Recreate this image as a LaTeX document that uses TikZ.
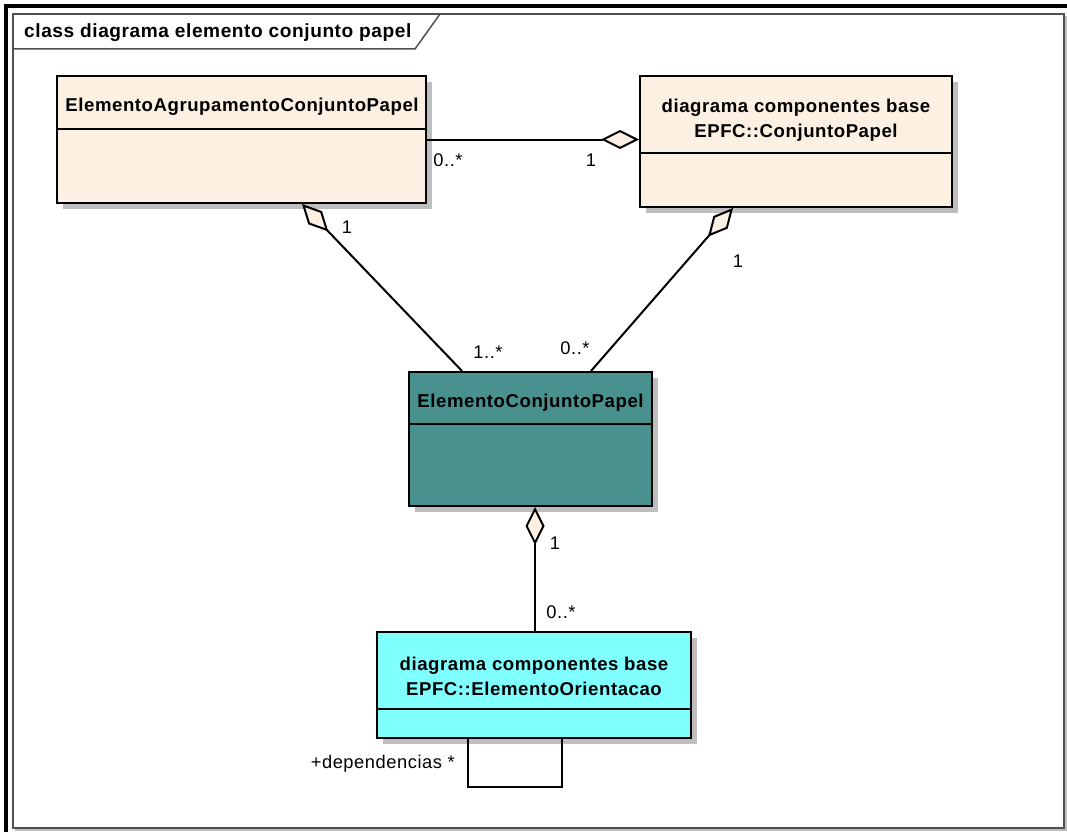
\documentclass[tikz,border=0pt]{standalone}
\usepackage{fontspec}
\setmainfont{Liberation Sans}[LetterSpace=3.0]
\usetikzlibrary{arrows.meta,calc,shadows}

\definecolor{paper}{RGB}{251,240,226}
\definecolor{tealbox}{RGB}{72,145,142}
\definecolor{cyanbox}{RGB}{128,255,255}
\definecolor{shadowgray}{RGB}{190,190,190}
\definecolor{framegray}{RGB}{80,80,80}

\tikzset{
  classbox/.style={draw=black, line width=2pt, inner sep=0pt,
    drop shadow={shadow xshift=6pt, shadow yshift=-6pt, fill=shadowgray, opacity=1}},
  classname/.style={font=\fontsize{18.6}{25}\selectfont\bfseries, align=center, inner sep=0pt},
  mult/.style={font=\fontsize{18.3}{20}\selectfont, inner sep=0pt},
  assoc/.style={line width=2pt, draw=black},
  agg/.style={assoc, -{Diamond[length=38pt,width=19pt,fill=paper]}},
  divider/.style={line width=2pt, draw=black},
}

\begin{document}
\begin{tikzpicture}[x=1pt,y=-1pt]
  % page and diagram frame
  \fill[white] (0,0) rectangle (1067,832);
  \useasboundingbox (0,0) rectangle (1067,832);
  \fill[black] (4,4.5) rectangle (1067,8);
  \fill[black] (4,4.5) rectangle (8,832);
  \draw[line width=2pt, shadowgray] (15,830) -- (1066,830) -- (1066,16);
  \draw[line width=1.5pt, framegray] (13,14) rectangle (1064,828);
  \draw[line width=1.5pt, framegray] (13,49) -- (415,49) -- (440,14);
  \node[anchor=base west, font=\fontsize{19.1}{20}\selectfont\bfseries, inner sep=0pt]
    (title) at (24,38) {class diagrama elemento conjunto papel};

  % classes
  \node[classbox, fill=paper, minimum width=369pt, minimum height=127pt] (b1) at (241.5,139.5) {};
  \node[classbox, fill=paper, minimum width=312pt, minimum height=131pt] (b2) at (796,141.5) {};
  \node[classbox, fill=tealbox, minimum width=243pt, minimum height=134pt] (b3) at (530.5,439) {};
  \node[classbox, fill=cyanbox, minimum width=314pt, minimum height=106pt] (b4) at (534,685) {};

  \draw[divider] (b1.west |- 0,129) -- (b1.east |- 0,129);
  \draw[divider] (b2.west |- 0,153) -- (b2.east |- 0,153);
  \draw[divider] (b3.west |- 0,424) -- (b3.east |- 0,424);
  \draw[divider] (b4.west |- 0,709) -- (b4.east |- 0,709);

  \node[classname] (n1) at (242,107) {ElementoAgrupamentoConjuntoPapel};
  \node[classname] (n2) at (796,120) {diagrama componentes base\\EPFC::ConjuntoPapel};
  \node[classname] (n3) at (530.5,403) {ElementoConjuntoPapel};
  \node[classname] (n4) at (534,676) {diagrama componentes base\\EPFC::ElementoOrientacao};

  % aggregations
  \draw[agg] (b1.east) -- (b1.east -| b2.west);
  \draw[agg] ($(b3.north west)+(54,0)$) -- ($(b1.south west)+(246,0)$);
  \draw[agg] ($(b3.north west)+(183,0)$) -- ($(b2.south west)+(94,0)$);
  \draw[agg] ($(b4.north west)+(159,0)$) -- ($(b3.south west)+(127,0)$);

  % self association
  \draw[assoc] ($(b4.south west)+(92,0)$) -- ++(0,48) -- ++(94,0) -- ++(0,-48);

  % multiplicities
  \node[mult] (m1) at (448,160) {0..*};
  \node[mult] (m2) at (591,160) {1};
  \node[mult] (m3) at (347,227) {1};
  \node[mult] (m4) at (488,352) {1..*};
  \node[mult] (m5) at (575,348) {0..*};
  \node[mult] (m6) at (738,261) {1};
  \node[mult] (m7) at (555,543) {1};
  \node[mult] (m8) at (561,612) {0..*};
  \node[mult, anchor=base east] (m9) at (455,768) {+dependencias *};
\end{tikzpicture}
\end{document}
